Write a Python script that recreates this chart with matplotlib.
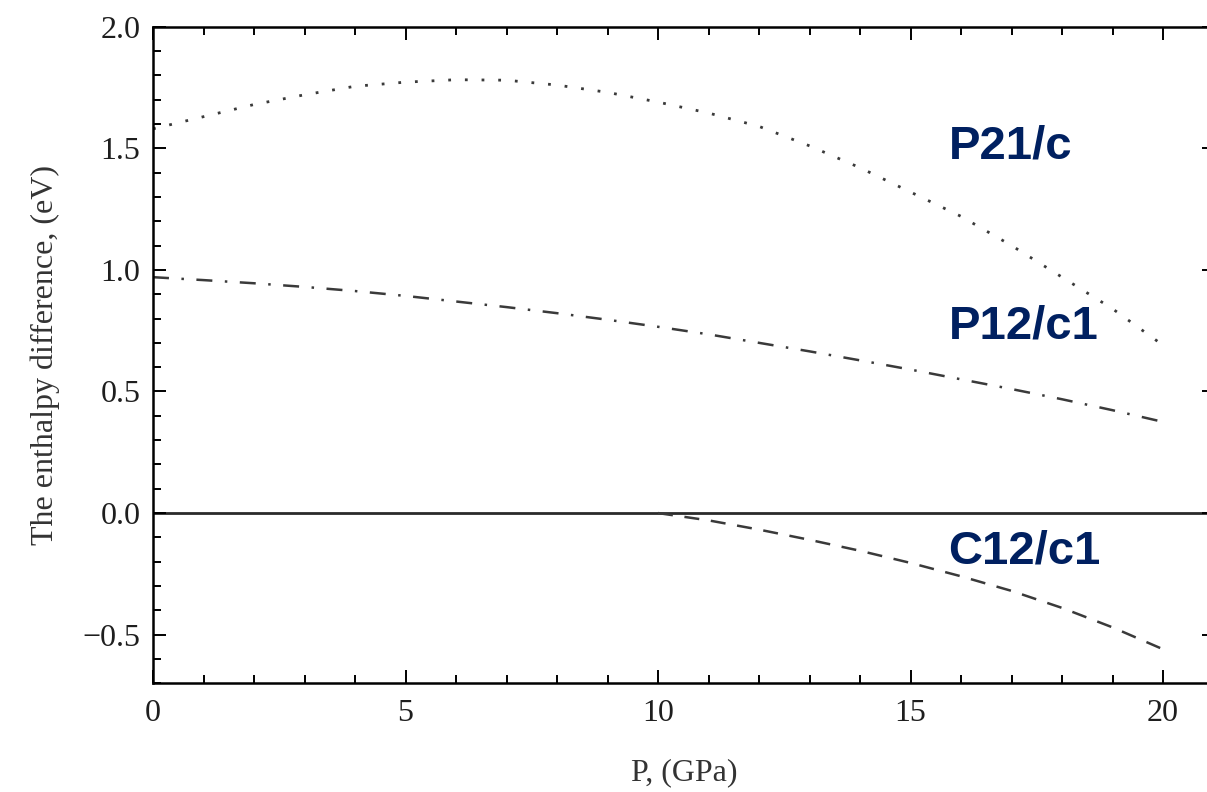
import matplotlib.pyplot as plt
import numpy as np

plt.rcParams['lines.scale_dashes'] = False

# pressure grid (GPa) and enthalpy differences (eV)
p = [0, 1, 2, 3, 4, 5, 6, 7, 8, 9, 10, 11, 12, 13, 14, 15, 16, 17, 18, 19, 20]
h_p21c = [1.58, 1.63, 1.68, 1.72, 1.755, 1.772, 1.782, 1.78, 1.76, 1.73, 1.69,
          1.645, 1.59, 1.51, 1.42, 1.32, 1.22, 1.10, 0.97, 0.84, 0.69]
h_p12c1 = [0.97, 0.958, 0.945, 0.93, 0.913, 0.893, 0.870, 0.847, 0.822, 0.795, 0.766,
           0.735, 0.70, 0.665, 0.628, 0.59, 0.55, 0.51, 0.468, 0.423, 0.375]
p_c12 = [10, 11, 12, 13, 14, 15, 16, 17, 18, 19, 20]
h_c12c1 = [0.0, -0.03, -0.068, -0.11, -0.155, -0.205, -0.26, -0.32, -0.39, -0.47, -0.56]

labels = ['P21/c', 'P12/c1', 'C12/c1']
label_y = [1.458, 0.718, -0.208]

fig = plt.figure(figsize=(12.07, 7.92), dpi=100)
ax = fig.add_axes([153/1207, 1 - 683.3/792, (1215 - 153)/1207, (683.3 - 26.7)/792])

ax.axhline(0, color='#2a2a2a', lw=2.0, zorder=1)
ax.plot(p, h_p21c, color='#3a3a3a', lw=2.0, linestyle=(0, (2.0, 10.0)))
ax.plot(p, h_p12c1, color='#3a3a3a', lw=1.8, linestyle=(0, (11.5, 9.0, 1.8, 9.0)))
ax.plot(p_c12, h_c12c1, color='#3a3a3a', lw=1.8, linestyle=(0, (10.8, 8.4)))

for lab, y in zip(labels, label_y):
    ax.text(15.75, y, lab, fontsize=34, fontweight='bold', color='#002060',
            family='Liberation Sans', va='baseline', ha='left')

ax.set_xlim(0, (1215 - 152) / 50.55)
ax.set_ylim(-0.7, 2.0)
ax.set_xticks([0, 5, 10, 15, 20])
ax.set_xticks(np.arange(0, 21, 1), minor=True)
ax.set_yticks([-0.5, 0.0, 0.5, 1.0, 1.5, 2.0])
ax.set_yticks(np.arange(-0.7, 2.01, 0.1), minor=True)
ax.set_yticklabels(['\u22120.5', '0.0', '0.5', '1.0', '1.5', '2.0'])

ax.tick_params(which='both', direction='in', top=True, right=True, width=1.4,
               labelsize=23, labelcolor='#1e1e1e')
ax.tick_params(which='major', length=9.5)
ax.tick_params(which='minor', length=6)
ax.tick_params(axis='y', pad=9)
ax.tick_params(axis='x', pad=11)
for lab in ax.get_xticklabels() + ax.get_yticklabels():
    lab.set_family('Liberation Serif')
for s in ax.spines.values():
    s.set_linewidth(1.8)

ax.set_xlabel('P, (GPa)', fontsize=23, family='Liberation Serif', color='#333333', labelpad=22)
ax.set_ylabel('The enthalpy difference, (eV)', fontsize=23, family='Liberation Serif',
              color='#333333', labelpad=16)

fig.savefig('out.png', dpi=100)
